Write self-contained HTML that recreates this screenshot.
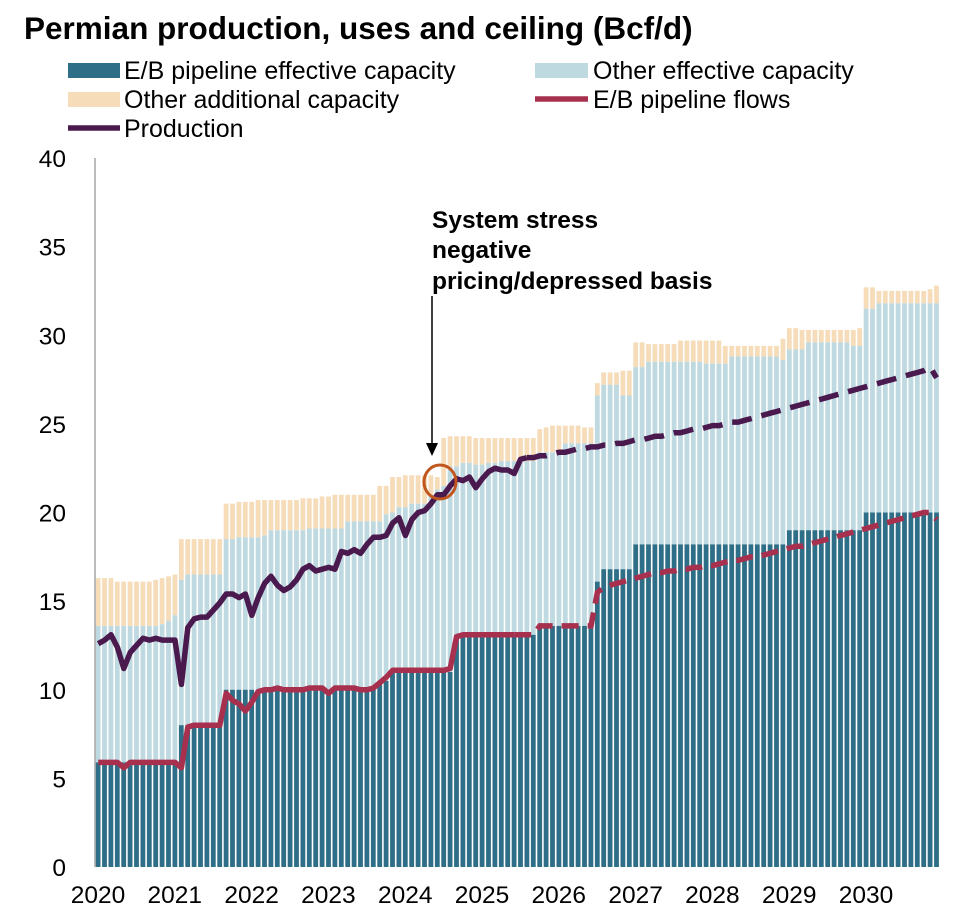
<!DOCTYPE html>
<html><head><meta charset="utf-8"><style>
body{margin:0;background:#fff;font-family:"Liberation Sans",Arial,sans-serif}
svg text{font-family:"Liberation Sans",Arial,sans-serif}
</style></head><body>
<svg id="chart" width="966" height="916" viewBox="0 0 966 916" xmlns="http://www.w3.org/2000/svg">
<text x="24" y="39" font-size="31.5" font-weight="bold" fill="#000">Permian production, uses and ceiling (Bcf/d)</text>
<g font-size="25" fill="#000">
<rect x="68" y="63" width="52" height="15" fill="#2e6e87"/>
<text x="124" y="79">E/B pipeline effective capacity</text>
<rect x="535" y="63" width="53" height="15" fill="#bfd9e1"/>
<text x="593" y="79">Other effective capacity</text>
<rect x="68" y="92" width="52" height="15" fill="#f6dcb8"/>
<text x="124" y="108">Other additional capacity</text>
<line x1="535" y1="99" x2="588" y2="99" stroke="#a8304f" stroke-width="5.5"/>
<text x="593" y="108">E/B pipeline flows</text>
<line x1="68" y1="128" x2="120" y2="128" stroke="#4a1a4f" stroke-width="5.5"/>
<text x="124" y="137">Production</text>
</g>
<g id="bars"></g>
<g id="lines"></g>
<g id="axes"></g>
<g>
<text x="432" y="228" font-size="24.5" font-weight="bold" fill="#000"><tspan x="432" y="228">System stress</tspan><tspan x="432" y="258">negative</tspan><tspan x="432" y="289">pricing/depressed basis</tspan></text>
<line x1="432" y1="296" x2="432" y2="446" stroke="#000" stroke-width="1.5"/>
<polygon points="426,443 438,443 432,456" fill="#000"/>
<ellipse cx="440" cy="482" rx="16" ry="17" fill="none" stroke="#c0561e" stroke-width="3"/>
</g>
</svg>
<script>
const years = ["2020","2021","2022","2023","2024","2025","2026","2027","2028","2029","2030"];
const yTicks = [0,5,10,15,20,25,30,35,40];
const ebCapacity = [
5.9,5.9,5.9,5.9,5.9,5.9,5.9,5.9,5.9,5.9,5.9,5.9,
5.9,8.0,8.0,8.0,8.0,8.0,8.0,8.0,10.0,10.0,10.0,10.0,
10.0,10.0,10.0,10.0,10.0,10.0,10.0,10.0,10.0,10.0,10.0,10.0,
10.0,10.0,10.0,10.0,10.0,10.0,10.0,10.0,10.5,10.5,11.0,11.0,
11.0,11.0,11.0,11.0,11.0,11.0,11.0,11.0,13.1,13.1,13.1,13.1,
13.1,13.1,13.1,13.1,13.1,13.1,13.1,13.1,13.1,13.6,13.6,13.6,
13.6,13.6,13.6,13.6,13.6,13.6,16.1,16.8,16.8,16.8,16.8,16.8,
18.2,18.2,18.2,18.2,18.2,18.2,18.2,18.2,18.2,18.2,18.2,18.2,
18.2,18.2,18.2,18.2,18.2,18.2,18.2,18.2,18.2,18.2,18.2,18.2,
19.0,19.0,19.0,19.0,19.0,19.0,19.0,19.0,19.0,19.0,19.0,19.0,
20.0,20.0,20.0,20.0,20.0,20.0,20.0,20.0,20.0,20.0,20.0,20.0];
const otherCapacityTop = [
13.6,13.6,13.6,13.6,13.6,13.6,13.6,13.6,13.6,13.6,13.7,13.9,
14.2,16.2,16.5,16.5,16.5,16.5,16.5,16.5,18.5,18.5,18.6,18.6,
18.6,18.6,18.7,19.0,19.0,19.0,19.0,19.0,19.0,19.1,19.1,19.1,
19.1,19.1,19.1,19.5,19.5,19.5,19.5,19.5,19.5,19.9,20.0,20.3,
20.3,20.5,20.5,20.5,21.0,21.3,21.5,22.6,22.6,22.8,22.8,22.7,
22.7,22.8,22.8,22.9,22.9,22.9,22.9,22.9,22.9,23.4,23.4,23.4,
23.4,23.9,23.9,23.9,23.9,23.9,26.6,27.2,27.2,27.2,26.6,26.6,
28.2,28.2,28.5,28.5,28.5,28.5,28.5,28.5,28.5,28.5,28.5,28.4,
28.4,28.4,28.4,28.8,28.8,28.8,28.8,28.8,28.8,28.8,28.8,28.6,
29.2,29.2,29.2,29.6,29.6,29.6,29.6,29.6,29.6,29.6,29.4,29.4,
31.5,31.5,31.8,31.8,31.8,31.8,31.8,31.8,31.8,31.8,31.8,31.8];
const additionalCapacityTop = [
16.3,16.3,16.3,16.1,16.1,16.1,16.1,16.1,16.1,16.2,16.3,16.4,
16.5,18.5,18.5,18.5,18.5,18.5,18.5,18.5,20.5,20.5,20.6,20.6,
20.6,20.7,20.7,20.7,20.7,20.7,20.7,20.7,20.8,20.8,20.8,20.9,
20.9,21.0,21.0,21.0,21.0,21.0,21.0,21.0,21.5,21.5,22.0,22.0,
22.1,22.1,22.1,22.1,22.1,22.0,24.2,24.3,24.3,24.3,24.3,24.2,
24.2,24.2,24.2,24.2,24.2,24.2,24.2,24.2,24.2,24.7,24.8,24.9,
24.9,24.9,24.9,24.9,24.8,24.8,27.3,27.9,27.9,27.9,28.0,28.0,
29.6,29.6,29.5,29.5,29.5,29.5,29.5,29.7,29.7,29.7,29.7,29.7,
29.7,29.7,29.4,29.4,29.4,29.4,29.4,29.4,29.4,29.4,29.4,29.8,
30.4,30.4,30.3,30.3,30.3,30.3,30.3,30.3,30.3,30.3,30.3,30.4,
32.7,32.7,32.5,32.5,32.5,32.5,32.5,32.5,32.5,32.5,32.6,32.8];
const production = [
12.6,12.8,13.1,12.4,11.2,12.1,12.5,12.9,12.8,12.9,12.8,12.8,
12.8,10.3,13.5,14.0,14.1,14.1,14.5,14.9,15.4,15.4,15.2,15.4,
14.2,15.2,16.0,16.4,15.9,15.6,15.8,16.2,16.8,17.0,16.7,16.8,
16.9,16.8,17.8,17.7,17.9,17.7,18.2,18.6,18.6,18.7,19.4,19.7,
18.7,19.6,20.0,20.1,20.5,21.0,21.0,21.5,21.9,21.8,22.0,21.4,
21.9,22.3,22.5,22.4,22.4,22.2,23.0,23.1,23.1,23.2,23.2,23.3,
23.4,23.4,23.5,23.6,23.6,23.7,23.7,23.8,23.8,23.9,23.9,24.0,
24.1,24.1,24.2,24.3,24.3,24.4,24.5,24.5,24.6,24.7,24.7,24.8,
24.9,24.9,25.0,25.1,25.1,25.2,25.3,25.4,25.5,25.6,25.7,25.8,
25.9,26.0,26.1,26.2,26.3,26.4,26.5,26.6,26.7,26.8,26.9,27.0,
27.1,27.2,27.3,27.4,27.5,27.6,27.7,27.8,27.9,28.0,28.2,27.6];
const ebFlows = [
5.9,5.9,5.9,5.9,5.6,5.9,5.9,5.9,5.9,5.9,5.9,5.9,
5.9,5.6,7.9,8.0,8.0,8.0,8.0,8.0,9.8,9.4,9.2,8.8,
9.3,9.9,10.0,10.0,10.1,10.0,10.0,10.0,10.0,10.1,10.1,10.1,
9.8,10.1,10.1,10.1,10.1,10.0,10.0,10.1,10.4,10.7,11.1,11.1,
11.1,11.1,11.1,11.1,11.1,11.1,11.1,11.2,13.0,13.1,13.1,13.1,
13.1,13.1,13.1,13.1,13.1,13.1,13.1,13.1,13.1,13.6,13.6,13.6,
13.6,13.6,13.6,13.6,13.6,13.6,15.5,15.8,15.9,16.0,16.1,16.2,
16.3,16.4,16.5,16.6,16.6,16.7,16.7,16.8,16.8,16.9,16.9,17.0,
17.0,17.1,17.2,17.3,17.3,17.4,17.5,17.5,17.6,17.7,17.8,17.9,
18.0,18.1,18.1,18.2,18.3,18.4,18.5,18.6,18.7,18.8,18.9,19.0,
19.1,19.2,19.3,19.4,19.5,19.6,19.7,19.8,19.9,20.0,20.0,19.6];
const productionForecastStart = 67;
const flowsForecastStart = 65;

const NS="http://www.w3.org/2000/svg";
const X0=95, MW=6.4, Y0=867, PY=(867-158)/40;
const xs=i=>X0+i*MW;
const xc=i=>X0+i*MW+MW/2;
const ys=v=>Y0-v*PY;
function mk(tag,attrs,parent){const e=document.createElementNS(NS,tag);for(const k in attrs)e.setAttribute(k,attrs[k]);parent.appendChild(e);return e;}
const bars=document.getElementById('bars');
for(let i=0;i<ebCapacity.length;i++){
  const x=xs(i)+0.7, w=MW-1.6;
  let r=mk('rect',{x:x,y:ys(additionalCapacityTop[i]),width:w,height:ys(otherCapacityTop[i])-ys(additionalCapacityTop[i]),fill:'#f6dcb8'},bars);
  
  
  r=mk('rect',{x:x,y:ys(otherCapacityTop[i]),width:w,height:ys(ebCapacity[i])-ys(otherCapacityTop[i]),fill:'#bfd9e1'},bars);
  
  
  r=mk('rect',{x:x,y:ys(ebCapacity[i]),width:w,height:Y0-ys(ebCapacity[i]),fill:'#2e6e87'},bars);
  
  
}
const lines=document.getElementById('lines');
function pts(arr,a,b){let s=[];for(let i=a;i<=b;i++)s.push(xc(i).toFixed(1)+','+ys(arr[i]).toFixed(1));return s.join(' ');}
let p;
p=mk('polyline',{points:pts(ebFlows,0,flowsForecastStart),fill:'none',stroke:'#a8304f','stroke-width':5.5,'stroke-linejoin':'round'},lines);


p=mk('polyline',{points:pts(ebFlows,flowsForecastStart,ebFlows.length-1),fill:'none',stroke:'#a8304f','stroke-width':5.5,'stroke-dasharray':'17,9'},lines);


p=mk('polyline',{points:pts(production,0,productionForecastStart),fill:'none',stroke:'#4a1a4f','stroke-width':5.5,'stroke-linejoin':'round'},lines);


p=mk('polyline',{points:pts(production,productionForecastStart,production.length-1),fill:'none',stroke:'#4a1a4f','stroke-width':5.5,'stroke-dasharray':'20,10'},lines);


const axes=document.getElementById('axes');
let a=mk('line',{x1:X0,y1:158,x2:X0,y2:Y0,stroke:'#a6a6a6','stroke-width':1.5},axes);


yTicks.forEach(v=>{
  const t=mk('text',{x:66,y:ys(v)+9,'text-anchor':'end','font-size':24.5,fill:'#000'},axes);
  t.textContent=v;
  
  
});
years.forEach((yr,k)=>{
  const t=mk('text',{x:X0+k*12*MW+3,y:903,'text-anchor':'middle','font-size':24.5,fill:'#000'},axes);
  t.textContent=yr;
  
  
});
</script>
</body></html>
